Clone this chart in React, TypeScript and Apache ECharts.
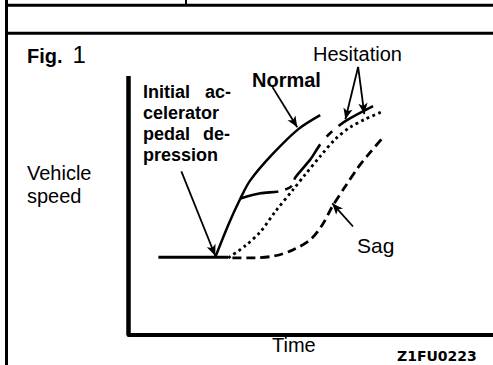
import React, { useEffect, useRef } from "react";
import * as echarts from "echarts";

// Time runs 0..100 across the plot, vehicle speed 0..100 up the drawn axis
// (the scale goes to 110 so the leader arrows above the axis stay in range).
const SPEED_AXIS_TOP = 100;

const baselineTime = [8.2, 27.4];
const baselineSpeed = [30, 30];

const normalTime = [23.8, 27.4, 30.7, 33.4, 39.5, 46.6, 52.6];
const normalSpeed = [30, 42.6, 52.7, 59.7, 69.8, 79.5, 84.9];

// Hesitation drawn with long and short dashes, branching off the normal curve
const hesitationTime = [30.7, 36.2, 41.1, 43.8, 44.9, 45.8, 49.9, 52.6, 55.3, 59.5, 67.1];
const hesitationSpeed = [52.7, 54.7, 55.4, 56.6, 57.8, 60.9, 67.8, 73.6, 77.9, 82.6, 88.4];

// Hesitation drawn dotted, starting from the baseline
const dottedTime = [27.4, 32.1, 36.2, 40.3, 45.2, 48.5, 52.6, 56.7, 60.8, 64.9, 69.9];
const dottedSpeed = [29.8, 34.5, 39.9, 47.7, 56.2, 62.0, 69.0, 75.6, 80.2, 83.3, 86.4];

const sagTime = [28.5, 34.8, 40.3, 45.2, 49.9, 53.2, 55.9, 59.5, 63.0, 66.3, 69.9];
const sagSpeed = [29.8, 29.8, 30.6, 32.9, 36.8, 42.6, 49.6, 57.4, 64.7, 70.5, 76.4];

// Leader arrows: [fromTime, fromSpeed, toTime, toSpeed]
const arrowInitial = [14.5, 63.2, 23.8, 30.6];
const arrowNormal = [39.5, 95.7, 46.3, 80.2];
const arrowHesitationA = [63.0, 103.5, 59.5, 83.3];
const arrowHesitationB = [63.0, 103.5, 64.7, 85.3];
const arrowSag = [61.6, 41.9, 55.9, 50.8];

const pairs = (xs: number[], ys: number[]) => xs.map((x, i) => [x, ys[i]]);

const arrow = (a: number[]) => [
  { coord: [a[0], a[1]], symbol: "none" },
  { coord: [a[2], a[3]], symbol: "arrow" },
];

const FONT = "'Liberation Sans', Arial, Helvetica, sans-serif";

const txt = (
  text: string,
  x: number,
  y: number,
  size: number,
  bold = false,
  align = "left",
  family = FONT
) => ({
  type: "text",
  x,
  y,
  silent: true,
  style: {
    text,
    font: `${bold ? "bold " : ""}${size}px ${family}`,
    fill: "#000",
    align,
    verticalAlign: "middle",
    textAlign: align,
    textVerticalAlign: "middle",
  },
});

const hline = (x1: number, x2: number, y: number, w: number) => ({
  type: "line",
  silent: true,
  shape: { x1, y1: y, x2, y2: y },
  style: { stroke: "#000", lineWidth: w },
});

const vline = (x: number, y1: number, y2: number, w: number) => ({
  type: "line",
  silent: true,
  shape: { x1: x, y1, x2: x, y2 },
  style: { stroke: "#000", lineWidth: w },
});

export default function App() {
  const ref = useRef<HTMLDivElement>(null);

  useEffect(() => {
    if (!ref.current) return;
    const chart = echarts.init(ref.current, null, { renderer: "svg" });

    const lineBase = {
      type: "line",
      showSymbol: false,
      symbol: "none",
      silent: true,
      clip: false,
    };

    chart.setOption({
      animation: false,
      backgroundColor: "#fff",
      grid: { left: 128.5, right: 0, top: 50.1, bottom: 30, containLabel: false },
      xAxis: {
        type: "value",
        min: 0,
        max: 100,
        axisLine: { show: true, onZero: false, lineStyle: { color: "#000", width: 4 } },
        axisTick: { show: false },
        axisLabel: { show: false },
        splitLine: { show: false },
      },
      yAxis: {
        type: "value",
        min: 0,
        max: 110,
        axisLine: { show: false },
        axisTick: { show: false },
        axisLabel: { show: false },
        splitLine: { show: false },
      },
      series: [
        {
          ...lineBase,
          name: "Baseline",
          data: pairs(baselineTime, baselineSpeed),
          lineStyle: { color: "#000", width: 3 },
          // the speed axis, drawn up to its top value
          markLine: {
            silent: true,
            symbol: "none",
            label: { show: false },
            lineStyle: { color: "#000", width: 4.5, type: "solid" },
            data: [[{ coord: [0, 0] }, { coord: [0, SPEED_AXIS_TOP] }]],
          },
        },
        {
          ...lineBase,
          name: "Normal",
          smooth: 0.3,
          data: pairs(normalTime, normalSpeed),
          lineStyle: { color: "#000", width: 2.5 },
          markLine: {
            silent: true,
            symbolSize: [7, 11],
            label: { show: false },
            lineStyle: { color: "#000", width: 1.8, type: "solid" },
            data: [
              arrow(arrowInitial),
              arrow(arrowNormal),
              arrow(arrowHesitationA),
              arrow(arrowHesitationB),
              arrow(arrowSag),
            ],
          },
        },
        {
          ...lineBase,
          name: "Hesitation",
          smooth: 0.3,
          data: pairs(hesitationTime, hesitationSpeed),
          lineStyle: {
            color: "#000",
            width: 2.6,
            type: [38.7, 7, 7.8, 6.5, 44, 10, 8, 8, 42, 50],
          },
        },
        {
          ...lineBase,
          name: "Hesitation (dotted)",
          smooth: 0.3,
          data: pairs(dottedTime, dottedSpeed),
          lineStyle: { color: "#000", width: 2.8, type: [2.8, 3.4] },
        },
        {
          ...lineBase,
          name: "Sag",
          smooth: 0.3,
          data: pairs(sagTime, sagSpeed),
          lineStyle: { color: "#000", width: 2.8, type: [9, 5] },
        },
      ],
      graphic: [
        // page frame
        vline(6.5, 0, 365, 3),
        hline(5, 493, 5.3, 3),
        vline(186, 0, 5, 2),
        hline(5, 493, 33.3, 3),
        // headings and labels
        txt("Fig.", 27, 55.5, 20, true),
        txt("1", 72.5, 54.5, 24),
        txt("Vehicle", 27, 172.5, 20),
        txt("speed", 27, 195.5, 20),
        txt("Hesitation", 313, 54, 20),
        txt("Normal", 252, 79.5, 20, true),
        txt("Initial", 143, 92, 18, true),
        txt("ac-", 231, 92, 18, true, "right"),
        txt("celerator", 143, 113, 18, true),
        txt("pedal", 143, 134, 18, true),
        txt("de-", 230, 134, 18, true, "right"),
        txt("pression", 143, 155, 18, true),
        txt("Sag", 357, 245.5, 21),
        txt("Time", 272, 345, 20),
        txt("Z1FU0223", 397, 356, 14, true, "left", "'DejaVu Sans', sans-serif"),
      ],
    });

    return () => chart.dispose();
  }, []);

  return (
    <div
      ref={ref}
      style={{ position: "fixed", left: 0, top: 0, width: 493, height: 365, background: "#fff" }}
    />
  );
}
